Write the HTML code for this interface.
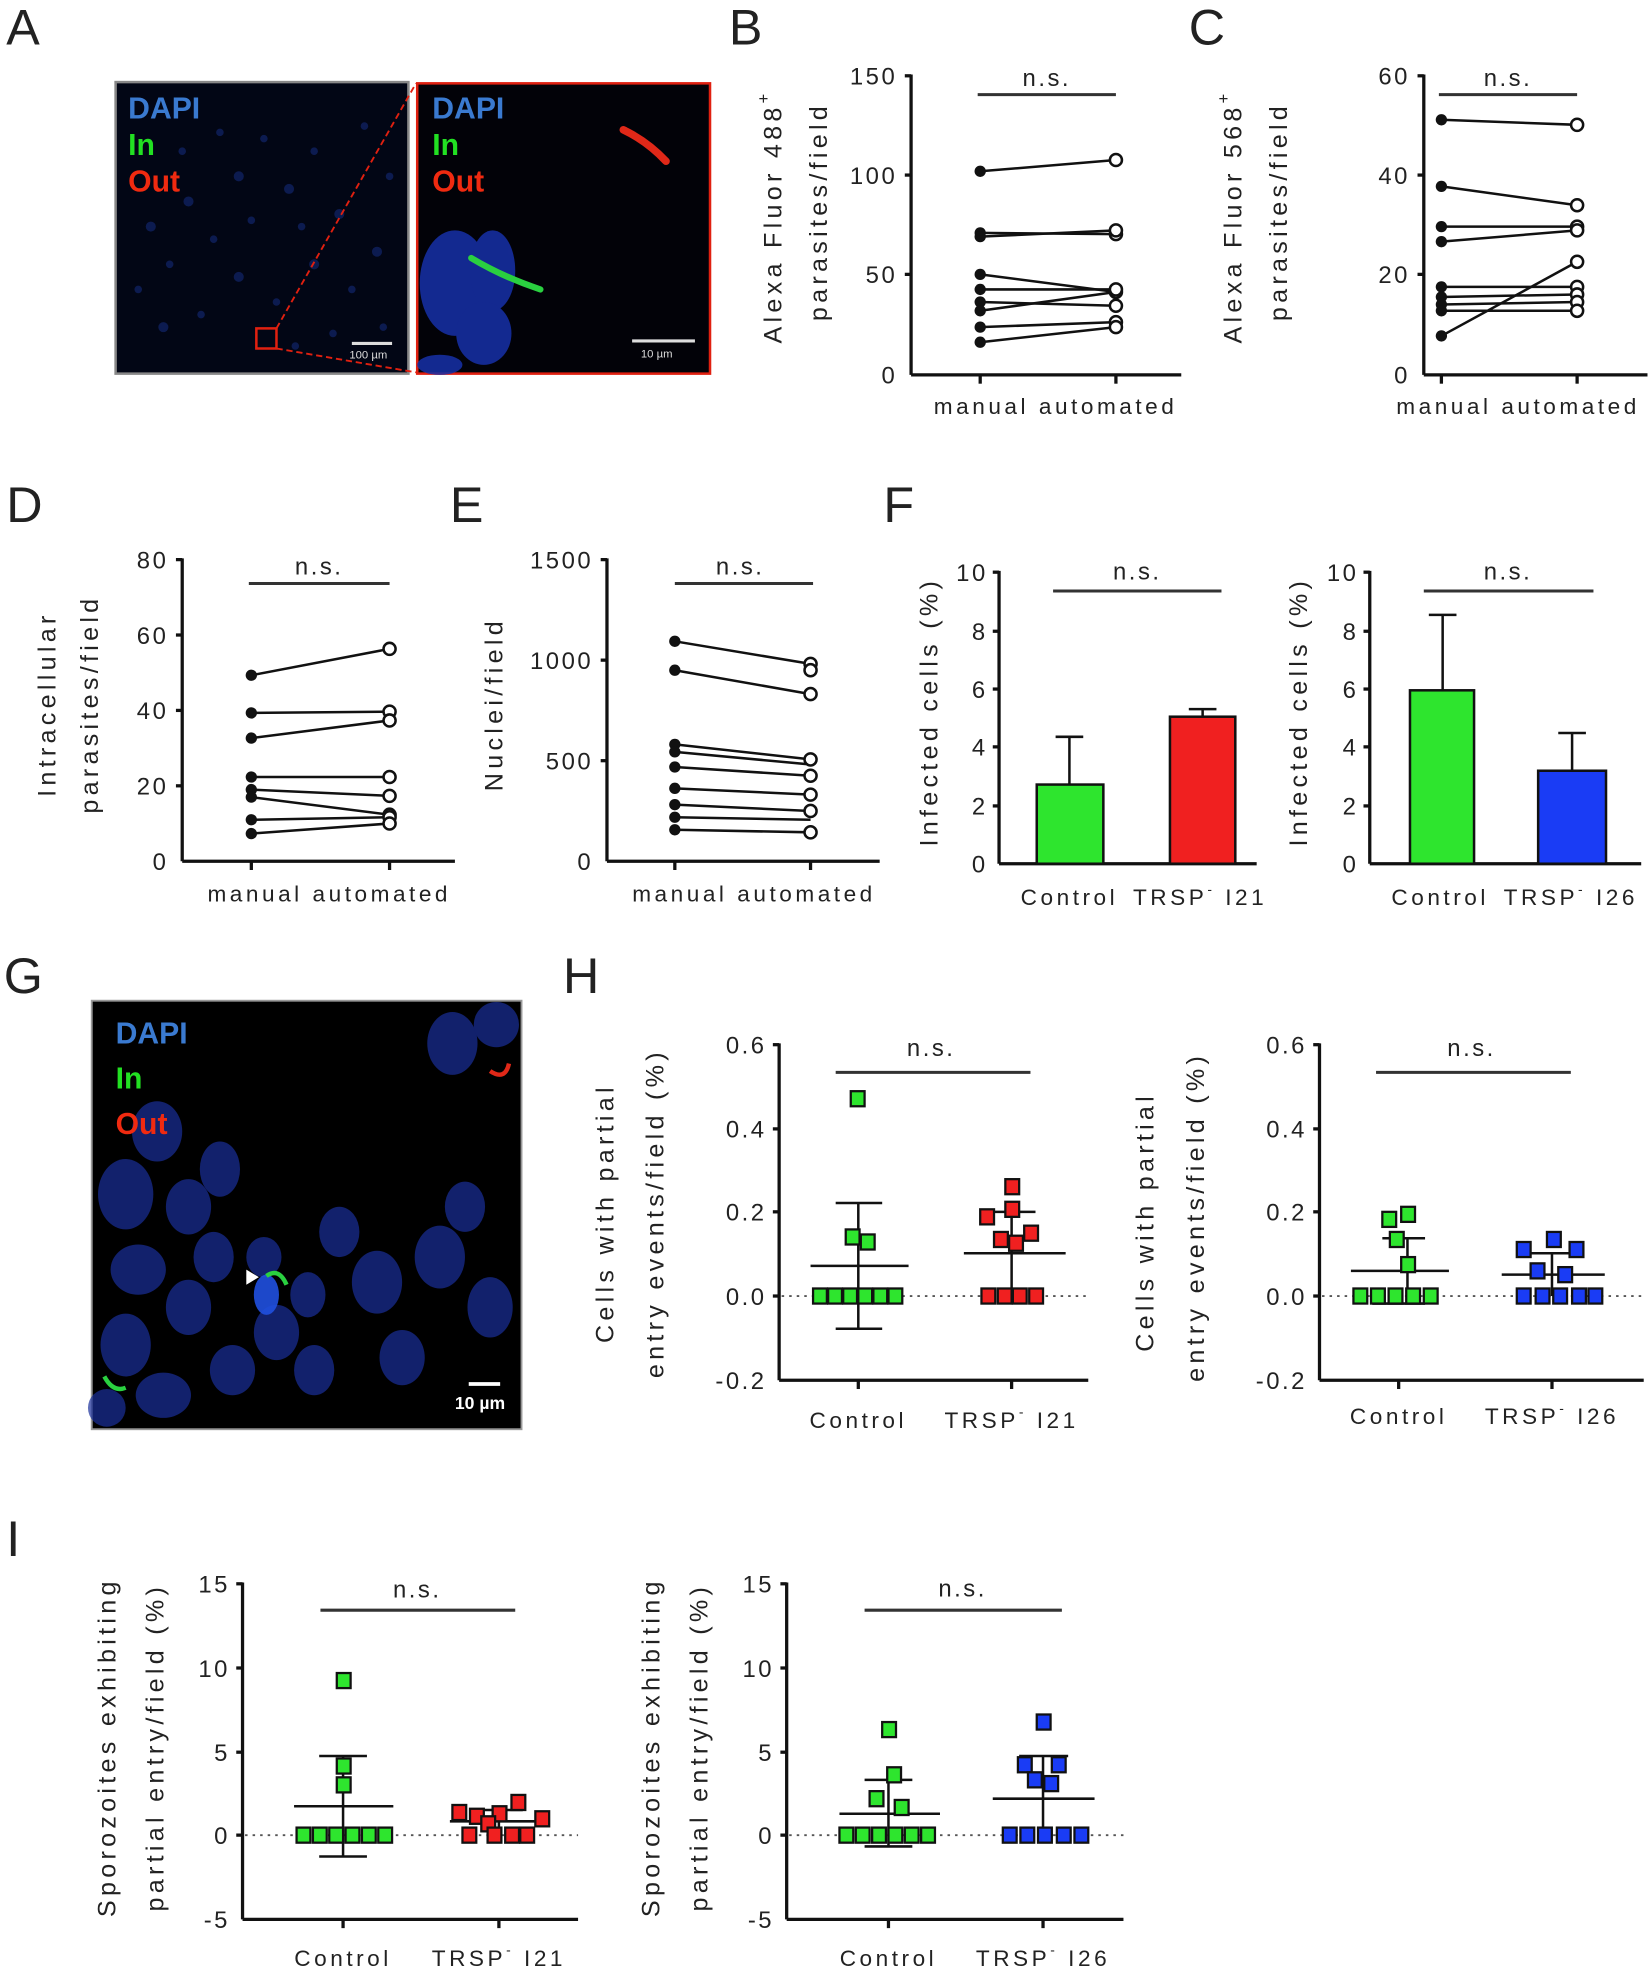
<!DOCTYPE html>
<html><head><meta charset="utf-8"><style>
html,body{margin:0;padding:0;background:#fff}
svg{display:block}
text{font-family:"Liberation Sans",Arial,sans-serif;fill:#222}
.L{font-size:40px}
.t{font-size:19px;letter-spacing:2px}
.x{font-size:18px;letter-spacing:2.8px}
.y{font-size:20px;letter-spacing:3.4px}
.ax{stroke:#111;stroke-width:2.6;fill:none}
.ln{stroke:#111;stroke-width:2;fill:none}
.bar{stroke:#333;stroke-width:2.4}
.g{fill:#2ee52e;stroke:#111;stroke-width:1.8}
.r{fill:#f02020;stroke:#111;stroke-width:1.8}
.b{fill:#1a3cf5;stroke:#111;stroke-width:1.8}
.dot{stroke:#555;stroke-width:1.5;stroke-dasharray:2 4}
.mic{font-family:"Liberation Sans",Arial,sans-serif;font-weight:bold;font-size:24px}
</style></head><body>
<svg width="1650" height="1970" viewBox="0 0 1313 1567" xmlns="http://www.w3.org/2000/svg">
<!-- ============ A ============ -->
<text class="L" x="5" y="35">A</text>
<rect x="92" y="65" width="233" height="232" fill="#020615" stroke="#888" stroke-width="2"/>
<g fill="#1a3598" opacity="0.45">
<circle cx="120" cy="180" r="4"/><circle cx="135" cy="210" r="3"/><circle cx="150" cy="160" r="4"/><circle cx="170" cy="190" r="3"/><circle cx="190" cy="140" r="4"/><circle cx="210" cy="110" r="3"/><circle cx="230" cy="150" r="4"/><circle cx="250" cy="120" r="3"/><circle cx="270" cy="170" r="4"/><circle cx="290" cy="100" r="3"/><circle cx="300" cy="200" r="4"/><circle cx="280" cy="230" r="3"/><circle cx="250" cy="210" r="4"/><circle cx="220" cy="240" r="3"/><circle cx="190" cy="220" r="4"/><circle cx="160" cy="250" r="3"/><circle cx="130" cy="260" r="4"/><circle cx="110" cy="230" r="3"/><circle cx="240" cy="180" r="3"/><circle cx="200" cy="175" r="3"/><circle cx="310" cy="140" r="3"/><circle cx="265" cy="265" r="3"/><circle cx="145" cy="120" r="3"/><circle cx="175" cy="105" r="3"/><circle cx="305" cy="260" r="3"/><circle cx="235" cy="275" r="3"/>
</g>
<text class="mic" x="102" y="94" style="fill:#3a7ad0">DAPI</text>
<text class="mic" x="102" y="123" style="fill:#22e022">In</text>
<text class="mic" x="102" y="152" style="fill:#f02a10">Out</text>
<rect x="204" y="261" width="16" height="16" fill="none" stroke="#e02010" stroke-width="2"/>
<line x1="220" y1="261" x2="331" y2="66" stroke="#e02010" stroke-width="1.5" stroke-dasharray="5 3"/>
<line x1="220" y1="277" x2="331" y2="296" stroke="#e02010" stroke-width="1.5" stroke-dasharray="5 3"/>
<line x1="280" y1="273" x2="312" y2="273" stroke="#ddd" stroke-width="2.5"/>
<text x="278" y="285" style="fill:#ddd;font-size:9px">100 µm</text>
<rect x="332" y="66" width="233" height="231" fill="#020208" stroke="#e02010" stroke-width="2"/>
<g fill="#1730a8" opacity="0.85">
<ellipse cx="362" cy="225" rx="28" ry="42"/><ellipse cx="392" cy="215" rx="18" ry="32"/><ellipse cx="385" cy="265" rx="22" ry="25"/><ellipse cx="350" cy="290" rx="18" ry="8"/>
</g>
<path d="M375 205 Q400 220 430 230" stroke="#2ad040" stroke-width="5" fill="none" stroke-linecap="round"/>
<path d="M496 103 Q515 112 530 128" stroke="#e02818" stroke-width="6" fill="none" stroke-linecap="round"/>
<text class="mic" x="344" y="94" style="fill:#3a7ad0">DAPI</text>
<text class="mic" x="344" y="123" style="fill:#22e022">In</text>
<text class="mic" x="344" y="152" style="fill:#f02a10">Out</text>
<line x1="503" y1="271" x2="553" y2="271" stroke="#ddd" stroke-width="2.5"/>
<text x="510" y="284" style="fill:#ddd;font-size:9px">10 µm</text>

<!-- ============ B ============ -->
<text class="L" x="580" y="35">B</text>
<line class="ax" x1="725" y1="59" x2="725" y2="298"/><line class="ax" x1="725" y1="298" x2="940" y2="298"/>
<g class="ax"><line x1="720" y1="60" x2="725" y2="60"/><line x1="720" y1="139" x2="725" y2="139"/><line x1="720" y1="218" x2="725" y2="218"/><line x1="780" y1="298" x2="780" y2="305"/><line x1="888" y1="298" x2="888" y2="305"/></g>
<g class="t" text-anchor="end"><text x="714" y="67">150</text><text x="714" y="146">100</text><text x="714" y="225">50</text><text x="714" y="305">0</text></g>
<text class="t" x="833" y="68" text-anchor="middle">n.s.</text>
<line class="bar" x1="778" y1="75" x2="888" y2="75"/>
<text class="x" x="840" y="329" text-anchor="middle">manual automated</text>
<text class="y" transform="translate(622,172) rotate(-90)" text-anchor="middle">Alexa Fluor 488<tspan dy="-10" font-size="13">+</tspan></text>
<text class="y" transform="translate(658,168) rotate(-90)" text-anchor="middle">parasites/field</text>
<g class="ln"><line x1="780" y1="136" x2="888" y2="127"/><line x1="780" y1="185" x2="888" y2="186"/><line x1="780" y1="188" x2="888" y2="183"/><line x1="780" y1="218" x2="888" y2="232"/><line x1="780" y1="230" x2="888" y2="230"/><line x1="780" y1="240" x2="888" y2="243"/><line x1="780" y1="247" x2="888" y2="232"/><line x1="780" y1="260" x2="888" y2="256"/><line x1="780" y1="272" x2="888" y2="260"/></g>
<g fill="#111"><circle cx="780" cy="136" r="4.5"/><circle cx="780" cy="185" r="4.5"/><circle cx="780" cy="188" r="4.5"/><circle cx="780" cy="218" r="4.5"/><circle cx="780" cy="230" r="4.5"/><circle cx="780" cy="240" r="4.5"/><circle cx="780" cy="247" r="4.5"/><circle cx="780" cy="260" r="4.5"/><circle cx="780" cy="272" r="4.5"/></g>
<g fill="#fff" stroke="#111" stroke-width="2"><circle cx="888" cy="127" r="4.8"/><circle cx="888" cy="186" r="4.8"/><circle cx="888" cy="183" r="4.8"/><circle cx="888" cy="232" r="4.8"/><circle cx="888" cy="230" r="4.8"/><circle cx="888" cy="243" r="4.8"/><circle cx="888" cy="256" r="4.8"/><circle cx="888" cy="260" r="4.8"/></g>

<!-- ============ C ============ -->
<text class="L" x="946" y="35">C</text>
<line class="ax" x1="1133" y1="59" x2="1133" y2="298"/><line class="ax" x1="1133" y1="298" x2="1311" y2="298"/>
<g class="ax"><line x1="1128" y1="60" x2="1133" y2="60"/><line x1="1128" y1="139" x2="1133" y2="139"/><line x1="1128" y1="218" x2="1133" y2="218"/><line x1="1147" y1="298" x2="1147" y2="305"/><line x1="1255" y1="298" x2="1255" y2="305"/></g>
<g class="t" text-anchor="end"><text x="1122" y="67">60</text><text x="1122" y="146">40</text><text x="1122" y="225">20</text><text x="1122" y="305">0</text></g>
<text class="t" x="1200" y="68" text-anchor="middle">n.s.</text>
<line class="bar" x1="1145" y1="75" x2="1255" y2="75"/>
<text class="x" x="1208" y="329" text-anchor="middle">manual automated</text>
<text class="y" transform="translate(988,172) rotate(-90)" text-anchor="middle">Alexa Fluor 568<tspan dy="-10" font-size="13">+</tspan></text>
<text class="y" transform="translate(1024,168) rotate(-90)" text-anchor="middle">parasites/field</text>
<g class="ln"><line x1="1147" y1="95" x2="1255" y2="99"/><line x1="1147" y1="148" x2="1255" y2="163"/><line x1="1147" y1="180" x2="1255" y2="180"/><line x1="1147" y1="192" x2="1255" y2="183"/><line x1="1147" y1="228" x2="1255" y2="228"/><line x1="1147" y1="236" x2="1255" y2="234"/><line x1="1147" y1="242" x2="1255" y2="240"/><line x1="1147" y1="247" x2="1255" y2="247"/><line x1="1147" y1="267" x2="1255" y2="208"/></g>
<g fill="#111"><circle cx="1147" cy="95" r="4.5"/><circle cx="1147" cy="148" r="4.5"/><circle cx="1147" cy="180" r="4.5"/><circle cx="1147" cy="192" r="4.5"/><circle cx="1147" cy="228" r="4.5"/><circle cx="1147" cy="236" r="4.5"/><circle cx="1147" cy="242" r="4.5"/><circle cx="1147" cy="247" r="4.5"/><circle cx="1147" cy="267" r="4.5"/></g>
<g fill="#fff" stroke="#111" stroke-width="2"><circle cx="1255" cy="99" r="4.8"/><circle cx="1255" cy="163" r="4.8"/><circle cx="1255" cy="180" r="4.8"/><circle cx="1255" cy="183" r="4.8"/><circle cx="1255" cy="208" r="4.8"/><circle cx="1255" cy="228" r="4.8"/><circle cx="1255" cy="234" r="4.8"/><circle cx="1255" cy="240" r="4.8"/><circle cx="1255" cy="247" r="4.8"/></g>

<!-- ============ D ============ -->
<text class="L" x="5" y="415">D</text>
<line class="ax" x1="145" y1="444" x2="145" y2="685"/><line class="ax" x1="145" y1="685" x2="362" y2="685"/>
<g class="ax"><line x1="140" y1="445" x2="145" y2="445"/><line x1="140" y1="505" x2="145" y2="505"/><line x1="140" y1="565" x2="145" y2="565"/><line x1="140" y1="625" x2="145" y2="625"/><line x1="200" y1="685" x2="200" y2="692"/><line x1="310" y1="685" x2="310" y2="692"/></g>
<g class="t" text-anchor="end"><text x="134" y="452">80</text><text x="134" y="512">60</text><text x="134" y="572">40</text><text x="134" y="632">20</text><text x="134" y="692">0</text></g>
<text class="t" x="254" y="457" text-anchor="middle">n.s.</text>
<line class="bar" x1="198" y1="464" x2="310" y2="464"/>
<text class="x" x="262" y="717" text-anchor="middle">manual automated</text>
<text class="y" transform="translate(44,560) rotate(-90)" text-anchor="middle">Intracellular</text>
<text class="y" transform="translate(78,560) rotate(-90)" text-anchor="middle">parasites/field</text>
<g class="ln"><line x1="200" y1="537" x2="310" y2="516"/><line x1="200" y1="567" x2="310" y2="566"/><line x1="200" y1="587" x2="310" y2="573"/><line x1="200" y1="618" x2="310" y2="618"/><line x1="200" y1="628" x2="310" y2="633"/><line x1="200" y1="634" x2="310" y2="648"/><line x1="200" y1="652" x2="310" y2="650"/><line x1="200" y1="663" x2="310" y2="655"/></g>
<g fill="#111"><circle cx="200" cy="537" r="4.5"/><circle cx="200" cy="567" r="4.5"/><circle cx="200" cy="587" r="4.5"/><circle cx="200" cy="618" r="4.5"/><circle cx="200" cy="628" r="4.5"/><circle cx="200" cy="634" r="4.5"/><circle cx="200" cy="652" r="4.5"/><circle cx="200" cy="663" r="4.5"/></g>
<g fill="#fff" stroke="#111" stroke-width="2"><circle cx="310" cy="516" r="4.8"/><circle cx="310" cy="566" r="4.8"/><circle cx="310" cy="573" r="4.8"/><circle cx="310" cy="618" r="4.8"/><circle cx="310" cy="633" r="4.8"/><circle cx="310" cy="648" r="4.8"/><circle cx="310" cy="650" r="4.8"/><circle cx="310" cy="655" r="4.8"/></g>

<!-- ============ E ============ -->
<text class="L" x="358" y="415">E</text>
<line class="ax" x1="483" y1="444" x2="483" y2="685"/><line class="ax" x1="483" y1="685" x2="700" y2="685"/>
<g class="ax"><line x1="478" y1="445" x2="483" y2="445"/><line x1="478" y1="525" x2="483" y2="525"/><line x1="478" y1="605" x2="483" y2="605"/><line x1="537" y1="685" x2="537" y2="692"/><line x1="645" y1="685" x2="645" y2="692"/></g>
<g class="t" text-anchor="end"><text x="472" y="452">1500</text><text x="472" y="532">1000</text><text x="472" y="612">500</text><text x="472" y="692">0</text></g>
<text class="t" x="589" y="457" text-anchor="middle">n.s.</text>
<line class="bar" x1="537" y1="464" x2="647" y2="464"/>
<text class="x" x="600" y="717" text-anchor="middle">manual automated</text>
<text class="y" transform="translate(400,560) rotate(-90)" text-anchor="middle">Nuclei/field</text>
<g class="ln"><line x1="537" y1="510" x2="645" y2="528"/><line x1="537" y1="533" x2="645" y2="552"/><line x1="537" y1="592" x2="645" y2="604"/><line x1="537" y1="598" x2="645" y2="608"/><line x1="537" y1="610" x2="645" y2="617"/><line x1="537" y1="627" x2="645" y2="632"/><line x1="537" y1="640" x2="645" y2="645"/><line x1="537" y1="650" x2="645" y2="652"/><line x1="537" y1="660" x2="645" y2="662"/></g>
<g fill="#111"><circle cx="537" cy="510" r="4.5"/><circle cx="537" cy="533" r="4.5"/><circle cx="537" cy="592" r="4.5"/><circle cx="537" cy="598" r="4.5"/><circle cx="537" cy="610" r="4.5"/><circle cx="537" cy="627" r="4.5"/><circle cx="537" cy="640" r="4.5"/><circle cx="537" cy="650" r="4.5"/><circle cx="537" cy="660" r="4.5"/></g>
<g fill="#fff" stroke="#111" stroke-width="2"><circle cx="645" cy="528" r="4.8"/><circle cx="645" cy="533" r="4.8"/><circle cx="645" cy="552" r="4.8"/><circle cx="645" cy="604" r="4.8"/><circle cx="645" cy="617" r="4.8"/><circle cx="645" cy="632" r="4.8"/><circle cx="645" cy="645" r="4.8"/><circle cx="645" cy="662" r="4.8"/></g>

<!-- ============ F ============ -->
<text class="L" x="703" y="415">F</text>
<line class="ax" x1="795" y1="454" x2="795" y2="687"/><line class="ax" x1="795" y1="687" x2="1000" y2="687"/>
<g class="ax"><line x1="790" y1="455" x2="795" y2="455"/><line x1="790" y1="502" x2="795" y2="502"/><line x1="790" y1="548" x2="795" y2="548"/><line x1="790" y1="594" x2="795" y2="594"/><line x1="790" y1="641" x2="795" y2="641"/></g>
<g class="t" text-anchor="end"><text x="786" y="462">10</text><text x="786" y="509">8</text><text x="786" y="555">6</text><text x="786" y="601">4</text><text x="786" y="648">2</text><text x="786" y="694">0</text></g>
<text class="t" x="905" y="461" text-anchor="middle">n.s.</text>
<line class="bar" x1="838" y1="470" x2="972" y2="470"/>
<line class="ln" x1="851" y1="586" x2="851" y2="624"/><line class="ln" x1="840" y1="586" x2="862" y2="586"/>
<rect x="825" y="624" width="53" height="63" fill="#2ee52e" stroke="#111" stroke-width="2"/>
<line class="ln" x1="957" y1="564" x2="957" y2="571"/><line class="ln" x1="946" y1="564" x2="968" y2="564"/>
<rect x="931" y="570" width="52" height="117" fill="#f02020" stroke="#111" stroke-width="2"/>
<text class="x" x="851" y="720" text-anchor="middle">Control</text>
<text class="x" x="955" y="720" text-anchor="middle">TRSP<tspan dy="-9" font-size="11">-</tspan><tspan dy="9"> I21</tspan></text>
<text class="y" transform="translate(746,566) rotate(-90)" text-anchor="middle">Infected cells (%)</text>

<line class="ax" x1="1090" y1="454" x2="1090" y2="687"/><line class="ax" x1="1090" y1="687" x2="1306" y2="687"/>
<g class="ax"><line x1="1085" y1="455" x2="1090" y2="455"/><line x1="1085" y1="502" x2="1090" y2="502"/><line x1="1085" y1="548" x2="1090" y2="548"/><line x1="1085" y1="594" x2="1090" y2="594"/><line x1="1085" y1="641" x2="1090" y2="641"/></g>
<g class="t" text-anchor="end"><text x="1081" y="462">10</text><text x="1081" y="509">8</text><text x="1081" y="555">6</text><text x="1081" y="601">4</text><text x="1081" y="648">2</text><text x="1081" y="694">0</text></g>
<text class="t" x="1200" y="461" text-anchor="middle">n.s.</text>
<line class="bar" x1="1133" y1="470" x2="1268" y2="470"/>
<line class="ln" x1="1148" y1="489" x2="1148" y2="549"/><line class="ln" x1="1137" y1="489" x2="1159" y2="489"/>
<rect x="1122" y="549" width="51" height="138" fill="#2ee52e" stroke="#111" stroke-width="2"/>
<line class="ln" x1="1251" y1="583" x2="1251" y2="613"/><line class="ln" x1="1240" y1="583" x2="1262" y2="583"/>
<rect x="1224" y="613" width="54" height="74" fill="#1a3cf5" stroke="#111" stroke-width="2"/>
<text class="x" x="1146" y="720" text-anchor="middle">Control</text>
<text class="x" x="1250" y="720" text-anchor="middle">TRSP<tspan dy="-9" font-size="11">-</tspan><tspan dy="9"> I26</tspan></text>
<text class="y" transform="translate(1040,566) rotate(-90)" text-anchor="middle">Infected cells (%)</text>

<!-- ============ G ============ -->
<text class="L" x="3" y="790">G</text>
<rect x="73" y="796" width="342" height="341" fill="#000" stroke="#999" stroke-width="1.5"/>
<g fill="#1a2f9a" opacity="0.7">
<ellipse cx="100" cy="950" rx="22" ry="28"/><ellipse cx="125" cy="900" rx="20" ry="24"/><ellipse cx="150" cy="960" rx="18" ry="22"/><ellipse cx="110" cy="1010" rx="22" ry="20"/><ellipse cx="150" cy="1040" rx="18" ry="22"/><ellipse cx="100" cy="1070" rx="20" ry="25"/><ellipse cx="170" cy="1000" rx="16" ry="20"/><ellipse cx="130" cy="1110" rx="22" ry="18"/><ellipse cx="185" cy="1090" rx="18" ry="20"/><ellipse cx="220" cy="1060" rx="18" ry="22"/><ellipse cx="210" cy="1000" rx="14" ry="16"/><ellipse cx="270" cy="980" rx="16" ry="20"/><ellipse cx="300" cy="1020" rx="20" ry="25"/><ellipse cx="250" cy="1090" rx="16" ry="20"/><ellipse cx="320" cy="1080" rx="18" ry="22"/><ellipse cx="350" cy="1000" rx="20" ry="25"/><ellipse cx="390" cy="1040" rx="18" ry="24"/><ellipse cx="370" cy="960" rx="16" ry="20"/><ellipse cx="360" cy="830" rx="20" ry="25"/><ellipse cx="395" cy="815" rx="18" ry="18"/><ellipse cx="175" cy="930" rx="16" ry="22"/><ellipse cx="85" cy="1120" rx="15" ry="15"/><ellipse cx="245" cy="1030" rx="14" ry="18"/></g>
<ellipse cx="212" cy="1030" rx="10" ry="16" fill="#2050e0" opacity="0.9"/>
<path d="M212 1015 Q222 1008 228 1022" stroke="#2ad040" stroke-width="3.5" fill="none"/>
<polygon points="196,1010 206,1016 196,1022" fill="#fff"/>
<path d="M390 852 Q402 860 405 846" stroke="#e02818" stroke-width="3.5" fill="none"/>
<path d="M83 1095 Q90 1108 100 1104" stroke="#2ad040" stroke-width="3.5" fill="none"/>
<text class="mic" x="92" y="830" style="fill:#3a7ad0">DAPI</text>
<text class="mic" x="92" y="866" style="fill:#22e022">In</text>
<text class="mic" x="92" y="902" style="fill:#f02a10">Out</text>
<line x1="373" y1="1101" x2="398" y2="1101" stroke="#fff" stroke-width="3"/>
<text x="362" y="1121" style="fill:#fff;font-size:14px;font-weight:bold">10 µm</text>

<!-- ============ H ============ -->
<text class="L" x="448" y="790">H</text>
<line class="ax" x1="620" y1="830" x2="620" y2="1098"/><line class="ax" x1="620" y1="1098" x2="866" y2="1098"/>
<g class="ax"><line x1="615" y1="831" x2="620" y2="831"/><line x1="615" y1="898" x2="620" y2="898"/><line x1="615" y1="964" x2="620" y2="964"/><line x1="615" y1="1031" x2="620" y2="1031"/><line x1="683" y1="1098" x2="683" y2="1105"/><line x1="805" y1="1098" x2="805" y2="1105"/></g>
<g class="t" text-anchor="end"><text x="610" y="838">0.6</text><text x="610" y="905">0.4</text><text x="610" y="971">0.2</text><text x="610" y="1038">0.0</text><text x="610" y="1105">-0.2</text></g>
<line class="dot" x1="622" y1="1031" x2="866" y2="1031"/>
<text class="t" x="741" y="840" text-anchor="middle">n.s.</text>
<line class="bar" x1="665" y1="853" x2="820" y2="853"/>
<g class="ln"><line x1="683" y1="957" x2="683" y2="1057"/><line x1="665" y1="957" x2="702" y2="957"/><line x1="665" y1="1057" x2="702" y2="1057"/><line x1="645" y1="1007" x2="723" y2="1007"/>
<line x1="805" y1="964" x2="805" y2="1031"/><line x1="787" y1="964" x2="824" y2="964"/><line x1="767" y1="997" x2="848" y2="997"/></g>
<g class="g"><rect x="677" y="868" width="11" height="12"/><rect x="673" y="978" width="11" height="12"/><rect x="685" y="982" width="11" height="12"/><rect x="647" y="1025" width="11" height="12"/><rect x="659" y="1025" width="11" height="12"/><rect x="671" y="1025" width="11" height="12"/><rect x="683" y="1025" width="11" height="12"/><rect x="695" y="1025" width="11" height="12"/><rect x="707" y="1025" width="11" height="12"/></g>
<g class="r"><rect x="800" y="938" width="11" height="12"/><rect x="780" y="962" width="11" height="12"/><rect x="800" y="956" width="11" height="12"/><rect x="791" y="980" width="11" height="12"/><rect x="803" y="983" width="11" height="12"/><rect x="815" y="975" width="11" height="12"/><rect x="781" y="1025" width="11" height="12"/><rect x="794" y="1025" width="11" height="12"/><rect x="806" y="1025" width="11" height="12"/><rect x="819" y="1025" width="11" height="12"/></g>
<text class="x" x="683" y="1136" text-anchor="middle">Control</text>
<text class="x" x="805" y="1136" text-anchor="middle">TRSP<tspan dy="-9" font-size="11">-</tspan><tspan dy="9"> I21</tspan></text>
<text class="y" transform="translate(488,965) rotate(-90)" text-anchor="middle">Cells with partial</text>
<text class="y" transform="translate(528,965) rotate(-90)" text-anchor="middle">entry events/field (%)</text>

<line class="ax" x1="1050" y1="830" x2="1050" y2="1098"/><line class="ax" x1="1050" y1="1098" x2="1308" y2="1098"/>
<g class="ax"><line x1="1045" y1="831" x2="1050" y2="831"/><line x1="1045" y1="898" x2="1050" y2="898"/><line x1="1045" y1="964" x2="1050" y2="964"/><line x1="1045" y1="1031" x2="1050" y2="1031"/><line x1="1113" y1="1098" x2="1113" y2="1105"/><line x1="1235" y1="1098" x2="1235" y2="1105"/></g>
<g class="t" text-anchor="end"><text x="1040" y="838">0.6</text><text x="1040" y="905">0.4</text><text x="1040" y="971">0.2</text><text x="1040" y="1038">0.0</text><text x="1040" y="1105">-0.2</text></g>
<line class="dot" x1="1052" y1="1031" x2="1308" y2="1031"/>
<text class="t" x="1171" y="840" text-anchor="middle">n.s.</text>
<line class="bar" x1="1095" y1="853" x2="1250" y2="853"/>
<g class="ln"><line x1="1120" y1="985" x2="1120" y2="1037"/><line x1="1100" y1="985" x2="1134" y2="985"/><line x1="1092" y1="1037" x2="1134" y2="1037"/><line x1="1075" y1="1011" x2="1153" y2="1011"/>
<line x1="1235" y1="997" x2="1235" y2="1031"/><line x1="1218" y1="997" x2="1254" y2="997"/><line x1="1195" y1="1014" x2="1277" y2="1014"/></g>
<g class="g"><rect x="1100" y="964" width="11" height="12"/><rect x="1115" y="960" width="11" height="12"/><rect x="1106" y="980" width="11" height="12"/><rect x="1115" y="1000" width="11" height="12"/><rect x="1077" y="1025" width="11" height="12"/><rect x="1091" y="1025" width="11" height="12"/><rect x="1105" y="1025" width="11" height="12"/><rect x="1119" y="1025" width="11" height="12"/><rect x="1133" y="1025" width="11" height="12"/></g>
<g class="b"><rect x="1231" y="980" width="11" height="12"/><rect x="1207" y="988" width="11" height="12"/><rect x="1249" y="988" width="11" height="12"/><rect x="1218" y="1005" width="11" height="12"/><rect x="1240" y="1008" width="11" height="12"/><rect x="1207" y="1025" width="11" height="12"/><rect x="1222" y="1025" width="11" height="12"/><rect x="1236" y="1025" width="11" height="12"/><rect x="1251" y="1025" width="11" height="12"/><rect x="1264" y="1025" width="11" height="12"/></g>
<text class="x" x="1113" y="1133" text-anchor="middle">Control</text>
<text class="x" x="1235" y="1133" text-anchor="middle">TRSP<tspan dy="-9" font-size="11">-</tspan><tspan dy="9"> I26</tspan></text>
<text class="y" transform="translate(918,972) rotate(-90)" text-anchor="middle">Cells with partial</text>
<text class="y" transform="translate(958,968) rotate(-90)" text-anchor="middle">entry events/field (%)</text>

<!-- ============ I ============ -->
<text class="L" x="5" y="1238">I</text>
<line class="ax" x1="193" y1="1259" x2="193" y2="1527"/><line class="ax" x1="193" y1="1527" x2="460" y2="1527"/>
<g class="ax"><line x1="188" y1="1260" x2="193" y2="1260"/><line x1="188" y1="1327" x2="193" y2="1327"/><line x1="188" y1="1394" x2="193" y2="1394"/><line x1="188" y1="1460" x2="193" y2="1460"/><line x1="273" y1="1527" x2="273" y2="1534"/><line x1="397" y1="1527" x2="397" y2="1534"/></g>
<g class="t" text-anchor="end"><text x="183" y="1267">15</text><text x="183" y="1334">10</text><text x="183" y="1401">5</text><text x="183" y="1467">0</text><text x="183" y="1534">-5</text></g>
<line class="dot" x1="195" y1="1460" x2="460" y2="1460"/>
<text class="t" x="332" y="1271" text-anchor="middle">n.s.</text>
<line class="bar" x1="255" y1="1281" x2="410" y2="1281"/>
<g class="ln"><line x1="273" y1="1397" x2="273" y2="1477"/><line x1="254" y1="1397" x2="292" y2="1397"/><line x1="254" y1="1477" x2="292" y2="1477"/><line x1="234" y1="1437" x2="313" y2="1437"/>
<line x1="397" y1="1440" x2="397" y2="1460"/><line x1="378" y1="1440" x2="416" y2="1440"/><line x1="358" y1="1449" x2="437" y2="1449"/></g>
<g class="g"><rect x="268" y="1331" width="11" height="12"/><rect x="268" y="1399" width="11" height="12"/><rect x="268" y="1414" width="11" height="12"/><rect x="236" y="1454" width="11" height="12"/><rect x="249" y="1454" width="11" height="12"/><rect x="262" y="1454" width="11" height="12"/><rect x="275" y="1454" width="11" height="12"/><rect x="288" y="1454" width="11" height="12"/><rect x="301" y="1454" width="11" height="12"/></g>
<g class="r"><rect x="407" y="1428" width="11" height="12"/><rect x="360" y="1436" width="11" height="12"/><rect x="374" y="1439" width="11" height="12"/><rect x="392" y="1437" width="11" height="12"/><rect x="426" y="1441" width="11" height="12"/><rect x="383" y="1445" width="11" height="12"/><rect x="368" y="1454" width="11" height="12"/><rect x="388" y="1454" width="11" height="12"/><rect x="402" y="1454" width="11" height="12"/><rect x="414" y="1454" width="11" height="12"/></g>
<text class="x" x="273" y="1564" text-anchor="middle">Control</text>
<text class="x" x="397" y="1564" text-anchor="middle">TRSP<tspan dy="-9" font-size="11">-</tspan><tspan dy="9"> I21</tspan></text>
<text class="y" transform="translate(92,1390) rotate(-90)" text-anchor="middle">Sporozoites exhibiting</text>
<text class="y" transform="translate(130,1390) rotate(-90)" text-anchor="middle">partial entry/field (%)</text>

<line class="ax" x1="626" y1="1259" x2="626" y2="1527"/><line class="ax" x1="626" y1="1527" x2="894" y2="1527"/>
<g class="ax"><line x1="621" y1="1260" x2="626" y2="1260"/><line x1="621" y1="1327" x2="626" y2="1327"/><line x1="621" y1="1394" x2="626" y2="1394"/><line x1="621" y1="1460" x2="626" y2="1460"/><line x1="707" y1="1527" x2="707" y2="1534"/><line x1="830" y1="1527" x2="830" y2="1534"/></g>
<g class="t" text-anchor="end"><text x="616" y="1267">15</text><text x="616" y="1334">10</text><text x="616" y="1401">5</text><text x="616" y="1467">0</text><text x="616" y="1534">-5</text></g>
<line class="dot" x1="628" y1="1460" x2="894" y2="1460"/>
<text class="t" x="766" y="1270" text-anchor="middle">n.s.</text>
<line class="bar" x1="688" y1="1281" x2="845" y2="1281"/>
<g class="ln"><line x1="707" y1="1416" x2="707" y2="1469"/><line x1="688" y1="1416" x2="726" y2="1416"/><line x1="688" y1="1469" x2="726" y2="1469"/><line x1="668" y1="1443" x2="748" y2="1443"/>
<line x1="830" y1="1397" x2="830" y2="1460"/><line x1="811" y1="1397" x2="850" y2="1397"/><line x1="790" y1="1431" x2="871" y2="1431"/></g>
<g class="g"><rect x="702" y="1370" width="11" height="12"/><rect x="706" y="1406" width="11" height="12"/><rect x="692" y="1425" width="11" height="12"/><rect x="712" y="1432" width="11" height="12"/><rect x="668" y="1454" width="11" height="12"/><rect x="681" y="1454" width="11" height="12"/><rect x="694" y="1454" width="11" height="12"/><rect x="707" y="1454" width="11" height="12"/><rect x="720" y="1454" width="11" height="12"/><rect x="733" y="1454" width="11" height="12"/></g>
<g class="b"><rect x="825" y="1364" width="11" height="12"/><rect x="810" y="1398" width="11" height="12"/><rect x="837" y="1398" width="11" height="12"/><rect x="818" y="1410" width="11" height="12"/><rect x="831" y="1413" width="11" height="12"/><rect x="798" y="1454" width="11" height="12"/><rect x="812" y="1454" width="11" height="12"/><rect x="826" y="1454" width="11" height="12"/><rect x="841" y="1454" width="11" height="12"/><rect x="855" y="1454" width="11" height="12"/></g>
<text class="x" x="707" y="1564" text-anchor="middle">Control</text>
<text class="x" x="830" y="1564" text-anchor="middle">TRSP<tspan dy="-9" font-size="11">-</tspan><tspan dy="9"> I26</tspan></text>
<text class="y" transform="translate(525,1390) rotate(-90)" text-anchor="middle">Sporozoites exhibiting</text>
<text class="y" transform="translate(563,1390) rotate(-90)" text-anchor="middle">partial entry/field (%)</text>
</svg>
</body></html>
